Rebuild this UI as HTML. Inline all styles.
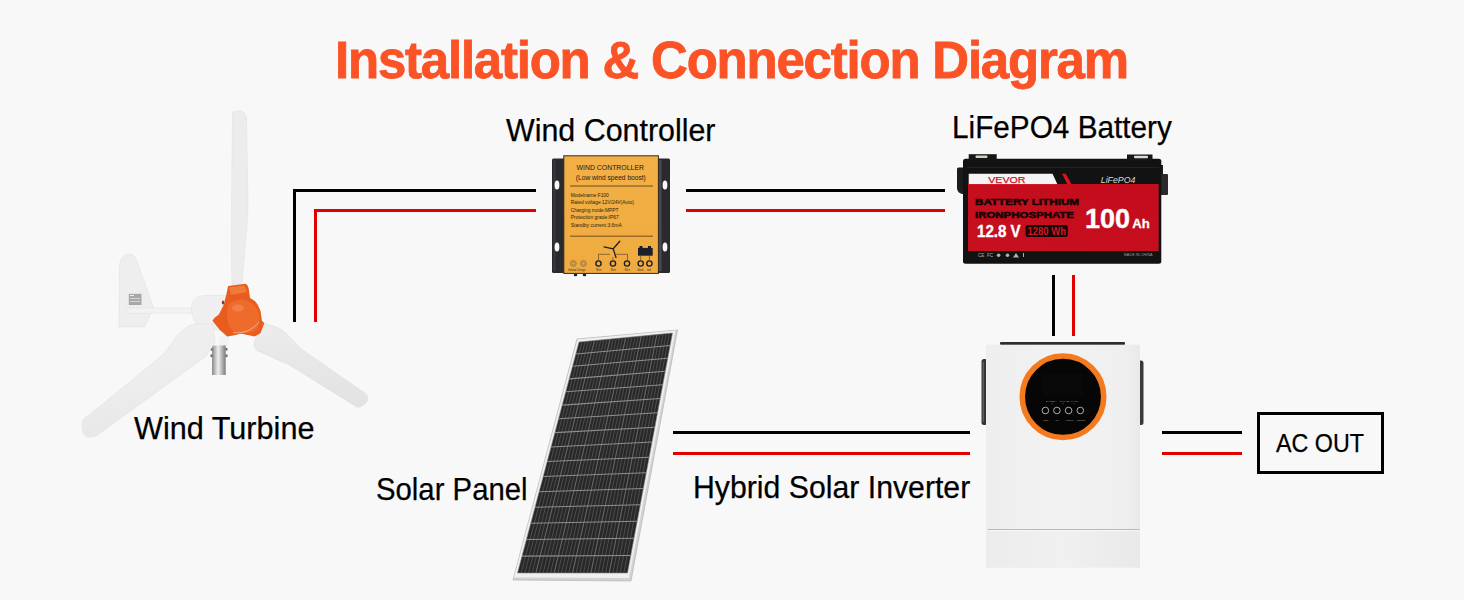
<!DOCTYPE html>
<html><head><meta charset="utf-8">
<style>
html,body{margin:0;padding:0;}
body{width:1464px;height:600px;background:#f8f8f8;position:relative;overflow:hidden;font-family:"Liberation Sans",sans-serif;}
.t{position:absolute;white-space:nowrap;line-height:1;color:#000;-webkit-text-stroke:0.25px #000;}
.ln{position:absolute;background:#000;}
.rd{position:absolute;background:#e00000;}
svg{position:absolute;left:0;top:0;}
</style></head>
<body>
<div class="t" id="title" style="left:335px;top:35px;font-size:51px;font-weight:bold;color:#fb5226;letter-spacing:-1.22px;-webkit-text-stroke:0.8px #fb5226;">Installation &amp; Connection Diagram</div>

<div class="t" style="left:506px;top:114px;font-size:32px;transform:scaleX(0.95);transform-origin:0 0;">Wind Controller</div>
<div class="t" style="left:952px;top:111px;font-size:32px;transform:scaleX(0.9295);transform-origin:0 0;">LiFePO4 Battery</div>
<div class="t" style="left:134px;top:412px;font-size:32px;transform:scaleX(0.9572);transform-origin:0 0;">Wind Turbine</div>
<div class="t" style="left:376px;top:473px;font-size:32px;transform:scaleX(0.9162);transform-origin:0 0;">Solar Panel</div>
<div class="t" style="left:693px;top:471px;font-size:32px;transform:scaleX(0.9448);transform-origin:0 0;">Hybrid Solar Inverter</div>

<svg width="1464" height="600" viewBox="0 0 1464 600">
<defs>
<linearGradient id="pole" x1="0" x2="1" y1="0" y2="0"><stop offset="0" stop-color="#8a8a8a"/><stop offset="0.45" stop-color="#f0f0f0"/><stop offset="1" stop-color="#7a7a7a"/></linearGradient>
<linearGradient id="red" x1="0" x2="1" y1="1" y2="0"><stop offset="0" stop-color="#c60f1f"/><stop offset="1" stop-color="#c40c1c"/></linearGradient>
<linearGradient id="gold" x1="0" x2="0" y1="0" y2="1"><stop offset="0" stop-color="#f2b046"/><stop offset="1" stop-color="#efab40"/></linearGradient>
<linearGradient id="bladeL" x1="0" x2="0.3" y1="0" y2="1"><stop offset="0" stop-color="#f0f0f0"/><stop offset="0.6" stop-color="#ededed"/><stop offset="1" stop-color="#e7e7e7"/></linearGradient>
<linearGradient id="bladeR" x1="0" x2="0" y1="0" y2="1"><stop offset="0" stop-color="#ececec"/><stop offset="1" stop-color="#e2e2e2"/></linearGradient>
<linearGradient id="invbody" x1="0" x2="1" y1="0" y2="0"><stop offset="0" stop-color="#eeeeee"/><stop offset="0.5" stop-color="#f2f2f2"/><stop offset="0.9" stop-color="#efefef"/><stop offset="1" stop-color="#e9e9e9"/></linearGradient>
<linearGradient id="invbody2" x1="0" x2="1" y1="0" y2="0"><stop offset="0" stop-color="#ececec"/><stop offset="0.5" stop-color="#f0f0f0"/><stop offset="1" stop-color="#e9e9e9"/></linearGradient>
</defs>
<!-- WIND TURBINE -->
<g id="turbine">
<path d="M128,254.3 C132,254 135,256 137,261.5 L153.5,308 L144.5,326.7 L119,326.7 L119.5,266 C120,259 124,254.5 128,254.3 Z" fill="#eeeeee" stroke="#e0e0e0" stroke-width="0.6"/>
<rect x="128.8" y="293.8" width="12.7" height="11.2" fill="#a8a8a8"/>
<rect x="130" y="295" width="4" height="1" fill="#eee"/><rect x="130" y="298" width="10" height="0.8" fill="#ddd"/><rect x="130" y="301" width="10" height="0.8" fill="#ddd"/>
<rect x="127" y="308" width="70" height="5.2" rx="1" fill="#f2f2f2" stroke="#dcdcdc" stroke-width="0.5"/>
<path d="M191.5,309 C191.5,300 197,295.5 206,295.5 L227,295.5 L227,330 L208,330 C197,330 191.5,318 191.5,309 Z" fill="#efefef" stroke="#dcdcdc" stroke-width="0.5"/>
<rect x="219" y="336" width="10" height="10" fill="#f2f2f2"/>
<rect x="212" y="345.5" width="13.7" height="29.5" fill="url(#pole)"/>
<rect x="210.5" y="348" width="2" height="2.5" fill="#666"/><rect x="210.5" y="354.5" width="2" height="2.5" fill="#666"/>
<rect x="225.5" y="348" width="2" height="2.5" fill="#666"/><rect x="225.5" y="354.5" width="2" height="2.5" fill="#666"/>
<path d="M232.5,112 L239,110.8 C243,110.8 246,113.5 246.5,118 L248,205 C247,240 243,262 242,285 L232,285 C231,260 231.5,230 231.5,205 Z" fill="#ececec" stroke="#e2e2e2" stroke-width="0.6"/>
<path d="M213,324 L196.3,324 C190,325 187,326.5 184.6,328.7 C180,332 177,335 175.3,338 L163.6,354.3 L89,415 C85,417.5 83,419 82.5,422 C81.5,426 82,431 84,434.5 C86,437.5 90,437.5 96,436 L205.6,356.6 L215,342.7 Z" fill="url(#bladeL)" stroke="#e0e0e0" stroke-width="0.6"/>
<path d="M263.8,322.8 L279.4,328.3 C288,334 294,342 300.5,348.5 L364,392.5 C368,395 369,399 366,403 L362,406 C360,407.5 358,407.5 356,406.5 L289.5,365 L257,350.5 C254,347 253.5,343 255,340 Z" fill="url(#bladeR)" stroke="#dcdcdc" stroke-width="0.6"/>
<path d="M228.1,286 L245.5,283.8 C247.5,284.5 249,288 249.1,291.5 L250,298 C254,300 257.5,303 258.3,306.2 C260,309 261,312 261,314.4 L262,320.8 L264.2,323 C263,327 261.5,331 260.1,333.6 L254.6,336.4 C248,335 244,334 240,333.7 C235,335 231,336 227.2,336.4 L219.8,330 L212.5,320.8 L214.3,318 L218.9,314.4 L223.5,305.2 L226.2,295.2 Z" fill="#ea5c1e"/>
<path d="M229,304 C235,298 248,298 255,306 C261,313 261,324 256,330 C250,334 240,334 233,331 C227,326 225,312 229,304 Z" fill="#ef6b2c"/>
<ellipse cx="238" cy="308" rx="6" ry="3.5" fill="#f28350" opacity="0.8"/>
<path d="M229,287.5 L244.5,285.5 L247,292 L231,295 Z" fill="#f07a3c"/>
<path d="M233,332.5 C243,334 253,330 259,322" stroke="#f6b494" stroke-width="0.9" fill="none"/>
<ellipse cx="223" cy="302.5" rx="1.2" ry="2" fill="#9a3020"/>
</g>
<!-- WIND CONTROLLER -->
<g id="ctrl">
<rect x="552" y="158.5" width="13" height="114.5" rx="1.5" fill="#2a2a2e"/>
<rect x="657" y="158.5" width="13" height="114.5" rx="1.5" fill="#2a2a2e"/>
<rect x="658.5" y="160" width="3" height="111" fill="#48484f"/>
<rect x="553.5" y="160" width="2" height="111" fill="#3a3a3e"/>
<ellipse cx="557" cy="185" rx="2.4" ry="4.6" fill="#f8f8f8"/>
<ellipse cx="557" cy="247" rx="2.4" ry="4.6" fill="#f8f8f8"/>
<ellipse cx="665" cy="185" rx="2.4" ry="4.6" fill="#f8f8f8"/>
<ellipse cx="665" cy="247" rx="2.4" ry="4.6" fill="#f8f8f8"/>
<rect x="563.8" y="155.8" width="94.6" height="117.6" fill="url(#gold)" stroke="#2e2a26" stroke-width="1"/>
<g fill="#1e1a14" font-family="Liberation Sans">
<text x="576.5" y="170.3" font-size="8" textLength="67.5" lengthAdjust="spacingAndGlyphs">WIND CONTROLLER</text>
<text x="575.8" y="179.6" font-size="7.6" textLength="70" lengthAdjust="spacingAndGlyphs">(Low wind speed boost)</text>
</g>
<rect x="570" y="185.3" width="83" height="1.5" fill="#9a6c28"/>
<g font-size="4.8" fill="#2a1e0a" font-family="Liberation Sans">
<text x="570.8" y="196.8" textLength="38" lengthAdjust="spacingAndGlyphs">Modelname:F100</text>
<text x="570.8" y="204.3" textLength="63" lengthAdjust="spacingAndGlyphs">Rated voltage:12V/24V(Auto)</text>
<text x="570.8" y="212" textLength="47.7" lengthAdjust="spacingAndGlyphs">Charging mode:MPPT</text>
<text x="570.8" y="219.3" textLength="48" lengthAdjust="spacingAndGlyphs">Protection grade:IP67</text>
<text x="570.8" y="226.8" textLength="51" lengthAdjust="spacingAndGlyphs">Standby current:3.6mA</text>
</g>
<rect x="570" y="235.5" width="83" height="1.5" fill="#9a6c28"/>
<path d="M598.5,260.5 L598.5,254.3 L610,254.3 M616,254.3 L627.5,254.3 L627.5,260.5 M613,257 L613,260.5" stroke="#4a3a20" stroke-width="0.6" fill="none"/>
<path d="M613.2,248.8 L619.8,241.3 M613.2,248.8 L604,246.8 M613.2,248.8 L616,257.5" stroke="#1c1e2a" stroke-width="1.3" fill="none" stroke-linecap="round"/>
<rect x="638" y="247.9" width="14.7" height="7.8" fill="#1c1e2a"/>
<rect x="639.5" y="246" width="3" height="2" fill="#1c1e2a"/><rect x="648" y="246" width="3" height="2" fill="#1c1e2a"/>
<path d="M640.7,255.7 L640.7,260 M649.4,255.7 L649.4,260" stroke="#4a3a20" stroke-width="0.6"/>
<g fill="none" stroke="#1c1e2a" stroke-width="1.4"><circle cx="598.5" cy="263.5" r="2.6"/><circle cx="613" cy="263.5" r="2.6"/><circle cx="627" cy="263.5" r="2.6"/><circle cx="640.7" cy="263.5" r="2.6"/><circle cx="649.4" cy="263.5" r="2.6"/></g>
<g fill="none" stroke="#6a5030" stroke-width="0.5"><circle cx="573.3" cy="263.5" r="3"/><circle cx="583.4" cy="263.5" r="3"/><circle cx="573.3" cy="263.5" r="1.6"/><circle cx="583.4" cy="263.5" r="1.6"/></g>
<g font-size="2.6" fill="#3a2a10" font-family="Liberation Sans"><text x="568" y="270.5">Unload Charge</text><text x="596" y="270.5">Wire</text><text x="610.5" y="270.5">Wire</text><text x="624.5" y="270.5">Wire</text><text x="637.5" y="270.5">black</text><text x="647" y="270.5">red</text></g>
<ellipse cx="575.5" cy="275" rx="1.8" ry="1.3" fill="#222"/><ellipse cx="584.5" cy="275" rx="1.8" ry="1.3" fill="#222"/>
</g>
<!-- BATTERY -->
<g id="battery">
<path d="M957,174 L957,187 C957,192 960,194 963,194 L963,174 Z" fill="#1e1e1e"/>
<rect x="957" y="167.5" width="10" height="22" rx="1.5" fill="#1b1b1b"/>
<rect x="1157" y="165" width="6" height="10" fill="#1b1b1b"/>
<rect x="1158" y="174" width="10" height="21" rx="1" fill="#2a2a2a"/>
<rect x="963" y="158.8" width="198.3" height="105" rx="2.5" fill="#121212"/>
<rect x="968.7" y="154.2" width="28" height="6" fill="#161616"/>
<rect x="1127" y="154.5" width="25.5" height="6" fill="#161616"/>
<rect x="975.5" y="155.5" width="12" height="2.5" rx="1" fill="#d8d0c4"/>
<rect x="1134" y="155.8" width="14" height="2.5" rx="1" fill="#e0d8d8"/>
<rect x="967" y="167" width="192" height="1" fill="#222"/>
<polygon points="968.7,173.8 1052.5,173.8 1057.5,184.6 968.7,184.6" fill="#f4f4f4"/>
<polygon points="1062,173.8 1065.8,173.8 1071.7,184.6 1067.5,184.6" fill="#d8141e"/>
<rect x="968.5" y="184.6" width="189.6" height="66" fill="url(#red)" stroke="#dc1020" stroke-width="0.8"/>
<text x="988.3" y="182.9" font-size="9.3" fill="#d0101a" font-family="Liberation Sans" textLength="37" lengthAdjust="spacingAndGlyphs" stroke="#d0101a" stroke-width="0.25">VEVOR</text>
<text x="1100.8" y="183.3" font-size="9.5" font-style="italic" fill="#dcdcdc" font-family="Liberation Sans" textLength="34.6" lengthAdjust="spacingAndGlyphs">LiFePO4</text>
<g font-weight="bold" fill="#120505" font-family="Liberation Sans" stroke="#120505" stroke-width="0.5">
<text x="975" y="205" font-size="9" textLength="104" lengthAdjust="spacingAndGlyphs">BATTERY LITHIUM</text>
<text x="975" y="217.5" font-size="9" textLength="99" lengthAdjust="spacingAndGlyphs">IRONPHOSPHATE</text>
</g>
<text x="977" y="236.9" font-size="15.8" font-weight="bold" fill="#fff" stroke="#fff" stroke-width="0.35" font-family="Liberation Sans" textLength="43.6" lengthAdjust="spacingAndGlyphs">12.8 V</text>
<rect x="1025.6" y="225" width="42.2" height="11.9" rx="2" fill="#150506"/>
<text x="1027.5" y="234.8" font-size="10.3" font-weight="bold" fill="#d41620" font-family="Liberation Sans" textLength="38.5" lengthAdjust="spacingAndGlyphs">1280 Wh</text>
<text x="1085" y="227.75" font-size="27.4" font-weight="bold" fill="#fff" stroke="#fff" stroke-width="0.4" font-family="Liberation Sans" textLength="45" lengthAdjust="spacingAndGlyphs">100</text>
<text x="1132.2" y="227.75" font-size="13.4" font-weight="bold" fill="#fff" stroke="#fff" stroke-width="0.3" font-family="Liberation Sans" textLength="17.5" lengthAdjust="spacingAndGlyphs">Ah</text>
<text x="1123.7" y="256" font-size="3.8" fill="#9a9a9a" font-family="Liberation Sans" textLength="28.8" lengthAdjust="spacingAndGlyphs">MADE IN CHINA</text>
<g fill="#b0b0b0" font-size="4.6" font-family="Liberation Sans"><text x="978" y="256.8">CE</text><text x="987" y="256.8">FC</text><circle cx="998.6" cy="255.2" r="1.8"/><circle cx="1007.5" cy="255.2" r="1.8"/><path d="M1013,257.5 L1016,253 L1019,257.5 Z"/><rect x="1023" y="253" width="1" height="4"/></g>
</g>
<!-- INVERTER -->
<g id="inverter">
<rect x="1000" y="342" width="125" height="3" rx="1" fill="#2e2e2e"/>
<rect x="981.5" y="359" width="6" height="66" rx="2.5" fill="#363636"/><rect x="982.5" y="362" width="1.5" height="60" fill="#5a5a5a"/>
<rect x="1138" y="360.5" width="5.5" height="64.5" rx="2.5" fill="#3a3a3a"/>
<rect x="986" y="344.7" width="154" height="223" fill="url(#invbody)"/>
<rect x="987.5" y="529.3" width="152" height="0.9" fill="#a8a29c"/>
<rect x="987.5" y="530.2" width="152" height="1.2" fill="#fbfbfb"/>
<rect x="986.5" y="531.4" width="153" height="36" fill="url(#invbody2)"/>
<circle cx="1063" cy="396.8" r="40.75" fill="#060606" stroke="#f47a20" stroke-width="5.6"/>
<rect x="1043" y="374" width="40" height="21" fill="#090909"/>
<g fill="none" stroke="#d6d6d6" stroke-width="0.8"><circle cx="1045.4" cy="410.5" r="3.3"/><circle cx="1056.9" cy="410.5" r="3.3"/><circle cx="1068.6" cy="410.5" r="3.3"/><circle cx="1080.3" cy="410.5" r="3.3"/></g>
<g fill="#9a9a9a" font-size="2.4" font-family="Liberation Sans"><text x="1046" y="401.8">BATTERY</text><text x="1060" y="401.8">BYPASS</text><text x="1070" y="401.8">ALARM</text>
<text x="1043.5" y="420.5">ESC</text><text x="1055.5" y="420.5">UP</text><text x="1066" y="420.5">DOWN</text><text x="1077" y="420.5">ENTER</text></g>
<circle cx="1052" cy="403.6" r="0.6" fill="#1a7a3a"/><circle cx="1063" cy="403.6" r="0.6" fill="#1a7a3a"/><circle cx="1074" cy="403.6" r="0.6" fill="#8a1a1a"/>
</g>
<!-- SOLAR PANEL -->
<g id="panel">
<polygon points="577.0,339.0 677.5,330.0 631.0,581.0 513.0,580.0" fill="#d2d2d2" stroke="#b4b4b4" stroke-width="0.7"/>
<polygon points="577.5,339.5 675.5,330.5 629.0,578.0 514.0,577.5" fill="#f0f0f0"/>
<polygon points="579.0,342.0 672.5,333.0 627.5,573.0 517.5,573.0" fill="#282828" stroke="#8a8a8a" stroke-width="0.6"/>
<path d="M582.12,341.70L521.17,573.00M585.23,341.40L524.83,573.00M588.35,341.10L528.50,573.00M591.47,340.80L532.17,573.00M594.58,340.50L535.83,573.00M597.70,340.20L539.50,573.00M600.82,339.90L543.17,573.00M603.93,339.60L546.83,573.00M607.05,339.30L550.50,573.00M610.17,339.00L554.17,573.00M613.28,338.70L557.83,573.00M616.40,338.40L561.50,573.00M619.52,338.10L565.17,573.00M622.63,337.80L568.83,573.00M625.75,337.50L572.50,573.00M628.87,337.20L576.17,573.00M631.98,336.90L579.83,573.00M635.10,336.60L583.50,573.00M638.22,336.30L587.17,573.00M641.33,336.00L590.83,573.00M644.45,335.70L594.50,573.00M647.57,335.40L598.17,573.00M650.68,335.10L601.83,573.00M653.80,334.80L605.50,573.00M656.92,334.50L609.17,573.00M660.03,334.20L612.83,573.00M663.15,333.90L616.50,573.00M666.27,333.60L620.17,573.00M669.38,333.30L623.83,573.00" stroke="#5a5a5a" stroke-width="0.75" fill="none"/>
<path d="M594.58,340.50L535.83,573.00M610.17,339.00L554.17,573.00M625.75,337.50L572.50,573.00M641.33,336.00L590.83,573.00M656.92,334.50L609.17,573.00" stroke="#7a7a7a" stroke-width="0.6" fill="none"/>
<path d="M575.82,353.96L670.17,345.43M572.54,366.25L667.78,358.20M569.18,378.87L665.32,371.31M565.74,391.82L662.79,384.76M562.20,405.11L660.21,398.56M558.58,418.72L657.56,412.71M554.86,432.66L654.84,427.19M551.06,446.93L652.06,442.02M547.18,461.53L649.21,457.19M543.20,476.47L646.31,472.71M539.14,491.73L643.33,488.56M534.99,507.32L640.29,504.76M530.75,523.25L637.19,521.31M526.42,539.50L634.03,538.20M522.00,556.09L630.80,555.43" stroke="#8e8e8e" stroke-width="1.1" fill="none"/>
</g>
</svg>

<!-- lines -->
<div class="ln" style="left:293px;top:189px;width:3px;height:133px;"></div>
<div class="ln" style="left:293px;top:189px;width:243px;height:3px;"></div>
<div class="rd" style="left:314px;top:209px;width:3px;height:113px;"></div>
<div class="rd" style="left:314px;top:209px;width:222px;height:3px;"></div>

<div class="ln" style="left:686px;top:189px;width:259px;height:3px;"></div>
<div class="rd" style="left:686px;top:209px;width:259px;height:3px;"></div>

<div class="ln" style="left:1052px;top:275px;width:3px;height:61px;"></div>
<div class="rd" style="left:1072px;top:275px;width:3px;height:61px;"></div>

<div class="ln" style="left:673px;top:431px;width:297px;height:3px;"></div>
<div class="rd" style="left:673px;top:452px;width:297px;height:3px;"></div>

<div class="ln" style="left:1162px;top:431px;width:80px;height:3px;"></div>
<div class="rd" style="left:1162px;top:452px;width:80px;height:3px;"></div>

<div style="position:absolute;left:1257px;top:412px;width:121px;height:56px;border:3px solid #000;"></div>
<div class="t" style="left:1276px;top:431px;font-size:25px;transform:scaleX(0.9309);transform-origin:0 0;">AC OUT</div>

</body></html>
